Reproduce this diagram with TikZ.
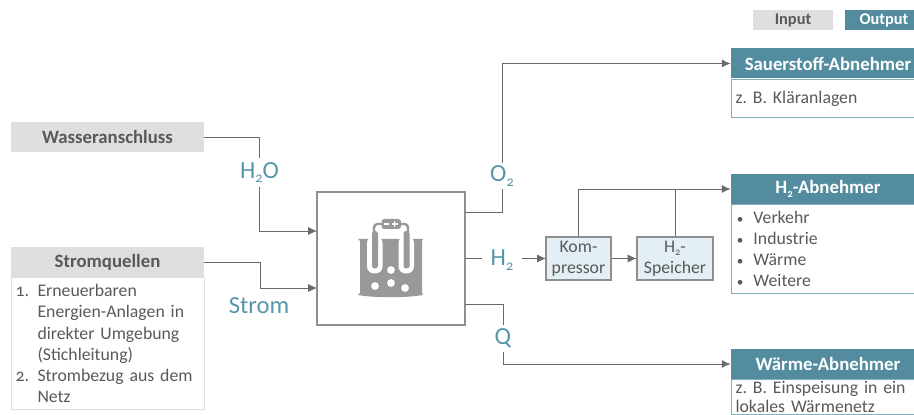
\documentclass[tikz,border=0pt]{standalone}
\usepackage{fontspec}
\setmainfont{Carlito}
\usetikzlibrary{arrows.meta}
\definecolor{tealhead}{HTML}{528C9E}
\definecolor{teallabel}{HTML}{5796A9}
\definecolor{inputgray}{HTML}{DFDFDF}
\definecolor{textgray}{HTML}{595959}
\definecolor{linegray}{HTML}{6A6A6A}
\definecolor{framegray}{HTML}{8F8F8F}
\definecolor{icongray}{HTML}{999999}
\definecolor{boxblue}{HTML}{E3EEF5}
\newcommand{\numitem}[1]{\hspace*{2.3pt}\makebox[12.5pt][l]{\addfontfeature{Numbers=OldStyle}#1}}
\newcommand{\numcont}{\hspace*{14.8pt}}
\newcommand{\bulitem}{\hspace*{3pt}\makebox[9.5pt][l]{\scalebox{.75}{\textbullet}}}
\newcommand{\subtwo}{\raisebox{-.42ex}{\scalebox{.58}{\addfontfeature{Numbers=OldStyle}2}}}
\frenchspacing
\tikzset{
    bodyfont/.style={font=\fontsize{10.1}{12}\selectfont, text=textgray},
    headfont/.style={font=\fontsize{10.7}{12}\selectfont\bfseries},
    inhead/.style={headfont, fill=inputgray, text=textgray, inner sep=0pt, minimum height=.6cm},
    outhead/.style={headfont, fill=tealhead, text=white, inner sep=0pt, minimum width=3.88cm, minimum height=.6cm},
    outbody/.style={bodyfont, draw=tealhead!70, line width=.6pt, anchor=north west, align=left, inner sep=0pt,
        text width=3.88cm, minimum width=3.88cm},
    flow/.style={draw=linegray, line width=.5pt},
    flowto/.style={flow, -{Latex[length=5pt,width=4.5pt]}},
    medium/.style={font=\fontsize{14}{15}\selectfont, text=teallabel, inner sep=0pt},
    step box/.style={bodyfont, draw=framegray, fill=boxblue, line width=.6pt, align=center, inner sep=0pt, minimum height=.86cm},
    icon/.style={fill=icongray, draw=none}
}
\begin{document}
\begin{tikzpicture}[x=0.02cm, y=-0.02cm]
    \useasboundingbox (0,0) rectangle (914,415);
    \clip (0,0) rectangle (914,415);

    \node[inhead, minimum width=1.6cm, font=\fontsize{9.3}{10}\selectfont\bfseries, minimum height=.4cm] (legin) at (793,20) {Input};
    \node[outhead, minimum width=1.58cm, font=\fontsize{9.3}{10}\selectfont\bfseries, minimum height=.4cm] (legout) at (884,20) {Output};

    \node[inhead, minimum width=3.86cm] (wasser) at (107.5,137) {Wasseranschluss};
    \node[bodyfont, draw=inputgray, line width=.6pt, anchor=north west, align=left, inner sep=0pt,
        minimum width=3.86cm, minimum height=2.64cm, text width=3.86cm] (stromtext) at (11,277)
        {\numitem{1.}Erneuerbaren\\
         \numcont Energien-Anlagen in\\
         \numcont direkter Umgebung\\
         \numcont (Stichleitung)\\
         \numitem{2.}Strombezug aus dem\\
         \numcont Netz};
    \node[inhead, minimum width=3.86cm] (stromq) at (107.5,262) {Stromquellen};

    \node[draw=framegray, fill=white, line width=.8pt, minimum width=2.96cm, minimum height=2.66cm, inner sep=0pt] (main) at (391,258.5) {};

    \node[medium, minimum height=.58cm] (h2o) at (259.5,172.5) {H\subtwo O};
    \node[medium] (stromlabel) at (259,306) {Strom};
    \node[medium, minimum height=.5cm] (o2) at (502,176) {O\subtwo};
    \node[medium, minimum width=.8cm] (h2) at (502,260) {H\subtwo};
    \node[medium, minimum height=.52cm] (q) at (503,338.5) {Q};

    \node[step box, minimum width=1.3cm] (kom) at (578.5,258.5) {Kom-\\pressor};
    \node[step box, minimum width=1.52cm] (speicher) at (675,258.5) {H\subtwo-\\Speicher};

    \node[outbody, minimum height=.76cm] (otext) at (731,79) {\hspace*{2.3pt}z. B. Kläranlagen};
    \node[outhead] (ohead) at (828,63.5) {Sauerstoff-Abnehmer};
    \node[outbody, minimum height=1.78cm] (htext) at (731,204)
        {\bulitem Verkehr\\
         \bulitem Industrie\\
         \bulitem Wärme\\
         \bulitem Weitere};
    \node[outhead] (hhead) at (828,189) {H\subtwo-Abnehmer};
    \node[outbody, minimum height=.7cm, font=\fontsize{10.1}{11.3}\selectfont] (wtext) at (731,379)
        {\hspace*{2.3pt}z. B. Einspeisung in ein\\
         \hspace*{2.3pt}lokales Wärmenetz};
    \node[outhead] (whead) at (828,364) {Wärme-Abnehmer};

    \coordinate (in1) at (317,231);
    \coordinate (in2) at (317,288);
    \coordinate (out1) at (465,212);
    \coordinate (out2) at (465,258.5);
    \coordinate (out3) at (465,304);
    \coordinate (h2in) at (546,258.5);

    \draw[flow] (wasser.east) -| (h2o);
    \draw[flowto] (h2o) |- (in1);
    \draw[flowto] (stromq.east) -- ++(56,0) |- (in2);
    \draw[flow] (out1) -| (o2);
    \draw[flowto] (o2) |- (ohead.west);
    \draw[flow] (out2) -- (h2.west |- out2);
    \draw[flowto] (h2.east |- h2in) -- (h2in);
    \draw[flowto] (kom) -- (speicher);
    \draw[flowto] (kom.north) |- (hhead.west);
    \draw[flow] (speicher.north) -- (speicher.north |- hhead.west);
    \draw[flow] (out3) -| (q);
    \draw[flowto] (q) |- (whead.west);

    \fill[icon] (358,239) -- (423,239) -- (422,241) -- (422,293) -- (423,295) .. controls (405,298) and (375,298) .. (358,295) -- (360,293) -- (360,241) -- cycle;
    \foreach \ux in {367,398.5} {
        \fill[white, rounded corners=4pt] (\ux,236) -- (\ux,273.5) -- (\ux+15.5,273.5) -- (\ux+15.5,236) -- cycle;
    }
    \foreach \ex in {372,403.5} {
        \fill[icon, rounded corners=1.5pt] (\ex,231) -- (\ex,268.5) -- (\ex+6,268.5) -- (\ex+6,231) -- cycle;
    }
    \draw[icongray, line width=1.4pt, rounded corners=2pt] (374,233) -- (374,224) -- (384,224);
    \draw[icongray, line width=1.4pt, rounded corners=2pt] (408,233) -- (408,224) -- (398,224);
    \fill[icon, rounded corners=1.5pt] (381.5,219) rectangle (401,229);
    \draw[white, line width=.9pt] (384,224) -- (389,224) (391.5,224) -- (397.5,224) (394.5,221) -- (394.5,227);
    \foreach \bx/\by in {391/270, 375/286, 391/283, 405/288} {
        \fill[white] (\bx,\by) circle (3.9);
    }
\end{tikzpicture}
\end{document}
